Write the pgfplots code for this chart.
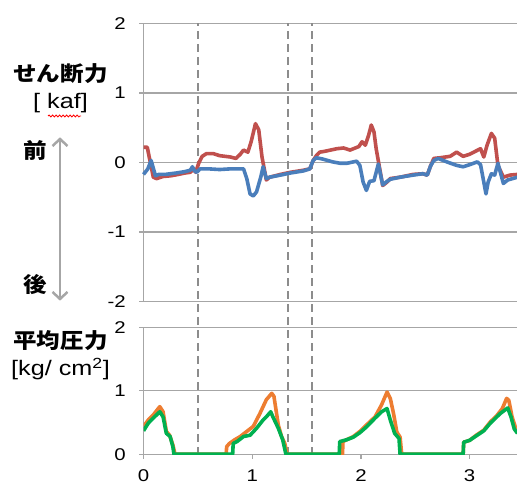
\documentclass[border=0pt]{standalone}
\usepackage{fontspec}
\setmainfont[FakeStretch=1.2]{Liberation Sans}
\newfontfamily\jp[FakeStretch=1.12]{Noto Sans CJK JP}
\usepackage{pgfplots}
\pgfplotsset{compat=1.18}
\usetikzlibrary{arrows.meta,decorations.pathmorphing}
\definecolor{cred}{HTML}{C0504D}
\definecolor{cblue}{HTML}{4A7EBB}
\definecolor{corange}{HTML}{ED7D31}
\definecolor{cgreen}{HTML}{00B050}
\definecolor{cgrid}{HTML}{A6A6A6}
\definecolor{cdash}{HTML}{8C8C8C}
\begin{document}
\begin{tikzpicture}[x=1pt,y=1pt]
\useasboundingbox (0,0) rectangle (517,486);
\pgfplotsset{every axis/.append style={scale only axis, xmin=0, xmax=3.44,
  axis y line*=left, axis line style={draw=cgrid, line width=1.3pt, -},
  ymajorgrids, grid style={draw=cgrid, line width=1.3pt},
  tick style={draw=cgrid, line width=1.3pt}, tick align=outside, major tick length=4.5pt,
  /pgf/number format/assume math mode=true,
  ticklabel style={font=\fontsize{17}{17}\selectfont},
  yticklabel style={inner sep=0pt, xshift=-13pt},
  xticklabel style={inner sep=0pt, yshift=-11pt}}}
% ---------------- upper axis: shear force
\begin{axis}[at={(143.5pt,184.3pt)}, anchor=south west, width=374pt, height=278.2pt,
  ymin=-2, ymax=2, ytick={-2,-1,0,1,2}, axis x line=none, clip=false]
\addplot[cdash, line width=2.2pt, dash pattern=on 8pt off 5pt] coordinates {(0.504,-4.201) (0.504,2)};
\addplot[cdash, line width=2.2pt, dash pattern=on 8pt off 5pt] coordinates {(1.326,-4.201) (1.326,2)};
\addplot[cdash, line width=2.2pt, dash pattern=on 8pt off 5pt] coordinates {(1.547,-4.201) (1.547,2)};
\addplot[cred, line width=3.6pt, line join=round] coordinates {
(0,0.22) (0.035,0.22) (0.05,0.10) (0.07,-0.05) (0.09,-0.21) (0.12,-0.23) (0.18,-0.20) (0.25,-0.19)
(0.32,-0.17) (0.38,-0.15) (0.43,-0.14) (0.46,-0.09) (0.48,-0.14) (0.51,0.0) (0.54,0.09) (0.58,0.13)
(0.64,0.13) (0.70,0.10) (0.80,0.08) (0.85,0.06) (0.89,0.12) (0.92,0.18) (0.96,0.15) (0.99,0.30)
(1.03,0.56) (1.06,0.47) (1.09,0.08) (1.13,-0.25) (1.16,-0.21) (1.26,-0.17) (1.35,-0.14) (1.47,-0.11)
(1.53,-0.09) (1.56,0.03) (1.59,0.10) (1.62,0.15) (1.66,0.16) (1.72,0.18) (1.78,0.20) (1.84,0.21)
(1.90,0.18) (1.98,0.23) (2.01,0.30) (2.04,0.25) (2.07,0.39) (2.095,0.54) (2.12,0.44) (2.14,0.20)
(2.165,-0.02) (2.20,-0.33) (2.24,-0.28) (2.27,-0.23) (2.36,-0.21) (2.48,-0.17) (2.57,-0.16) (2.61,-0.18)
(2.64,-0.05) (2.67,0.06) (2.73,0.07) (2.82,0.09) (2.88,0.15) (2.94,0.09) (3.00,0.12) (3.10,0.20)
(3.13,0.08) (3.16,0.25) (3.20,0.42) (3.23,0.35) (3.26,-0.04) (3.31,-0.21) (3.37,-0.18) (3.44,-0.17)};
\addplot[cblue, line width=3.6pt, line join=round] coordinates {
(0,-0.17) (0.04,-0.09) (0.07,0.03) (0.09,-0.08) (0.11,-0.19) (0.14,-0.17) (0.2,-0.17) (0.3,-0.15)
(0.38,-0.13) (0.43,-0.11) (0.45,-0.06) (0.47,-0.12) (0.49,-0.14) (0.52,-0.09) (0.6,-0.09) (0.7,-0.10)
(0.8,-0.09) (0.92,-0.09) (0.95,-0.23) (0.98,-0.45) (1.01,-0.48) (1.04,-0.42) (1.08,-0.20) (1.10,-0.06)
(1.13,-0.23) (1.16,-0.21) (1.26,-0.18) (1.35,-0.15) (1.47,-0.12) (1.53,-0.09) (1.56,0.03) (1.59,0.07)
(1.65,0.05) (1.74,0.01) (1.81,-0.01) (1.87,-0.01) (1.96,0.02) (1.99,-0.04) (2.02,-0.28) (2.05,-0.40)
(2.08,-0.27) (2.12,-0.26) (2.16,-0.02) (2.20,-0.32) (2.24,-0.27) (2.27,-0.24) (2.36,-0.21) (2.48,-0.18)
(2.57,-0.16) (2.61,-0.18) (2.64,-0.05) (2.67,0.03) (2.71,0.06) (2.79,0.01) (2.88,-0.04) (2.94,-0.06)
(3.00,-0.03) (3.07,0.01) (3.10,-0.03) (3.13,-0.28) (3.15,-0.45) (3.17,-0.28) (3.20,-0.16) (3.23,-0.18)
(3.26,-0.01) (3.31,-0.30) (3.35,-0.25) (3.44,-0.21)};
\end{axis}
% ---------------- lower axis: mean pressure
\begin{axis}[at={(143.5pt,31.7pt)}, anchor=south west, width=374pt, height=127pt,
  ymin=0, ymax=2, ytick={0,1,2}, axis x line*=bottom, xtick={0,1,2,3}]
\addplot[corange, line width=3.6pt, line join=round] coordinates {
(0,0.44) (0.044,0.54) (0.09,0.62) (0.14,0.73) (0.15,0.75) (0.18,0.67) (0.21,0.36) (0.24,0.30)
(0.27,0.15) (0.29,0) (0.76,0) (0.765,0.12) (0.79,0.17) (0.84,0.23) (0.89,0.28) (0.95,0.36)
(1.01,0.44) (1.07,0.64) (1.13,0.86) (1.18,0.96) (1.20,0.91) (1.24,0.46) (1.27,0.28) (1.30,0.17)
(1.32,0) (1.83,0) (1.835,0.2) (1.87,0.23) (1.93,0.28) (1.99,0.36) (2.05,0.46) (2.13,0.59)
(2.19,0.78) (2.24,0.98) (2.27,0.88) (2.30,0.64) (2.33,0.35) (2.36,0.27) (2.375,0) (2.94,0)
(2.945,0.19) (3.00,0.22) (3.06,0.30) (3.13,0.38) (3.19,0.51) (3.25,0.61) (3.30,0.72) (3.34,0.88)
(3.36,0.85) (3.39,0.59) (3.42,0.43) (3.44,0.35)};
\addplot[cgreen, line width=3.6pt, line join=round] coordinates {
(0,0.37) (0.044,0.49) (0.09,0.57) (0.15,0.67) (0.18,0.59) (0.21,0.33) (0.245,0.28) (0.27,0.12)
(0.28,0) (0.82,0) (0.825,0.17) (0.86,0.2) (0.92,0.28) (0.98,0.30) (1.04,0.41) (1.10,0.54)
(1.13,0.59) (1.17,0.67) (1.19,0.59) (1.24,0.41) (1.28,0.23) (1.31,0) (1.80,0) (1.805,0.2)
(1.87,0.23) (1.93,0.27) (1.99,0.34) (2.05,0.43) (2.13,0.57) (2.19,0.67) (2.24,0.72) (2.27,0.54)
(2.31,0.33) (2.35,0.25) (2.36,0) (2.94,0) (2.945,0.19) (3.00,0.22) (3.06,0.29) (3.13,0.37)
(3.19,0.49) (3.28,0.64) (3.35,0.73) (3.38,0.59) (3.41,0.40) (3.44,0.33)};
\end{axis}
% ---------------- left labels
\node[font=\jp\bfseries\fontsize{21}{21}\selectfont] at (60.5,412) {せん断力};
\node[font=\fontsize{21}{21}\selectfont] at (60.5,383) {[ kaf]};
\draw[red, line width=0.8pt, decorate, decoration={snake, amplitude=1pt, segment length=3.5pt}] (48,370) -- (81,370);
\node[font=\jp\bfseries\fontsize{21}{21}\selectfont] at (35.5,336) {前};
\node[font=\jp\bfseries\fontsize{21}{21}\selectfont] at (35,201) {後};
\draw[draw=cgrid, line width=2.5pt, {Straight Barb[length=7pt,width=15pt]}-{Straight Barb[length=7pt,width=15pt]}] (60,348.7) -- (60,185.3);
\node[font=\jp\bfseries\fontsize{21}{21}\selectfont] at (60.5,145) {平均圧力};
\node[font=\fontsize{21}{21}\selectfont] at (60.5,117) {[kg/ cm\textsuperscript{2}]};
\end{tikzpicture}
\end{document}
